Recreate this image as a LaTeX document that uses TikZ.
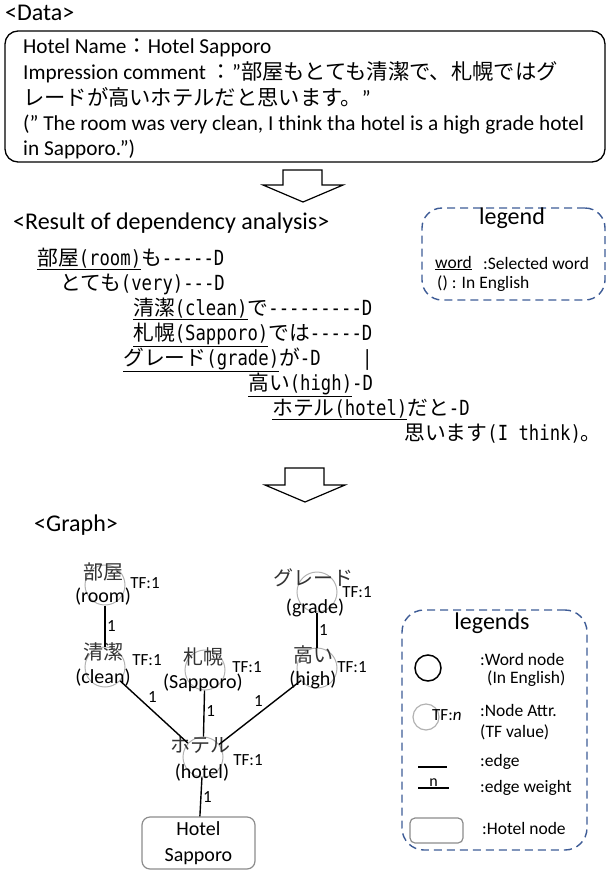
\documentclass[tikz,border=0pt]{standalone}
\usepackage{fontspec}
\setmainfont{Carlito}
\newfontfamily\jpfont{Noto Sans CJK JP}
\newfontfamily\depmono[FakeStretch=0.83]{DejaVu Sans Mono}
\newcommand\J[1]{{\jpfont #1}}
\newcommand\hy{-\kern0pt}
\definecolor{legblue}{RGB}{62,92,150}
\tikzset{
  heading/.style={font=\fontsize{24}{28}\selectfont, anchor=west, inner sep=0pt},
  datatext/.style={font=\fontsize{21.3}{25}\selectfont, anchor=base west, inner sep=0pt},
  dep/.style={font=\depmono\fontsize{20.8}{24}\selectfont, anchor=base west, inner sep=0pt},
  wordnode/.style={circle, draw=black!30, line width=1pt, minimum size=40pt, inner sep=0pt},
  jplabel/.style={font=\jpfont\fontsize{20}{24}\selectfont, text=black!80, inner sep=0pt},
  enlabel/.style={font=\fontsize{20}{24}\selectfont, inner sep=0pt},
  tflabel/.style={font=\fontsize{17}{19}\selectfont, inner sep=0pt},
  edge/.style={line width=1.4pt},
  wlabel/.style={font=\fontsize{17}{19}\selectfont, inner sep=1.5pt},
  legendbox/.style={draw=legblue, dash pattern=on 8pt off 5pt, line width=1.4pt, rounded corners=20pt},
  legtext/.style={font=\fontsize{17.5}{20}\selectfont, anchor=west, inner sep=0pt},
  hollowarrow/.style={draw, line width=1.2pt, fill=white, line join=miter},
}
\begin{document}
\begin{tikzpicture}[x=1pt,y=-1pt]
\useasboundingbox (0,0) rectangle (607,871);

% ---------- input data ----------
\node[heading] (hdata) at (5,13) {<Data>};
\node[draw, line width=1.3pt, rounded corners=13pt, minimum width=600pt, minimum height=131pt] (databox) at (305,96.5) {};
\node[datatext] (d1) at (23,53) {Hotel Name\J{：}Hotel Sapporo};
\node[datatext] (d2) at (23,79) {Impression comment \J{：}”\J{部屋もとても清潔で、札幌ではグ}};
\node[datatext] (d3) at (23,105) {\J{レードが高いホテルだと思います。}”};
\node[datatext] (d4) at (23,130) {(” The room was very clean, I think tha hotel is a high grade hotel};
\node[datatext] (d5) at (23,155) {in Sapporo.”)};

% arrow to the parse result
\draw[hollowarrow] (283,170) -- (322,170) -- (322,185) -- (343,185) -- (303,202) -- (263,185) -- (283,185) -- cycle;

% ---------- dependency analysis ----------
\node[heading] (hdep) at (13,223) {<Result of dependency analysis>};
\node[dep] (dep1) at (37,265) {\underline{\J{部屋}(room)}\J{も}\hy\hy\hy\hy\hy D};
\node[dep] (dep2) at (60,290) {\J{とても}(very)\hy\hy\hy D};
\node[dep] (dep3) at (133,315) {\underline{\J{清潔}(clean)}\J{で}\hy\hy\hy\hy\hy\hy\hy\hy\hy D};
\node[dep] (dep4) at (133,340) {\underline{\J{札幌}(Sapporo)}\J{では}\hy\hy\hy\hy\hy D};
\node[dep] (dep5) at (123,365) {\underline{\J{グレード}(grade)}\J{が}\hy D};
\node[dep] (dep5bar) at (362,365) {|};
\node[dep] (dep6) at (248,390) {\underline{\J{高い}(high)}\hy D};
\node[dep] (dep7) at (272,415) {\underline{\J{ホテル}(hotel)}\J{だと}\hy D};
\node[dep] (dep8) at (404,440) {\J{思います}(I think)\J{。}};

% legend of the parse result
\node[legendbox, minimum width=183pt, minimum height=92pt] (leg1) at (513.5,254) {};
\node[heading, anchor=center] (leg1t) at (512,218) {legend};
\node[legtext] (leg1a) at (435,263) {\underline{word}};
\node[legtext] (leg1b) at (483,263) {:Selected word};
\node[legtext] (leg1c) at (437,284) {() : In English};

% arrow to the graph
\draw[hollowarrow] (285,468) -- (324,468) -- (324,485) -- (345,485) -- (305,502) -- (265,485) -- (285,485) -- cycle;

% ---------- graph ----------
\node[heading] (hgraph) at (34,525) {<Graph>};

\node[wordnode] (room) at (105,585) {};
\node[jplabel] (roomjp) at (103,572) {部屋};
\node[enlabel] (roomen) at (103,597) {(room)};
\node[tflabel] (roomtf) at (145,583) {TF:1};

\node[wordnode] (grade) at (317,592) {};
\node[jplabel] (gradejp) at (313,578) {グレード};
\node[enlabel] (gradeen) at (315,608) {(grade)};
\node[tflabel] (gradetf) at (357,592) {TF:1};

\node[wordnode] (clean) at (105,667) {};
\node[jplabel] (cleanjp) at (103,652) {清潔};
\node[enlabel] (cleanen) at (103,678) {(clean)};
\node[tflabel] (cleantf) at (147,660) {TF:1};

\node[wordnode] (sap) at (205,670) {};
\node[jplabel] (sapjp) at (203,657) {札幌};
\node[enlabel] (sapen) at (203,683) {(Sapporo)};
\node[tflabel] (saptf) at (247,667) {TF:1};

\node[wordnode] (high) at (317,668) {};
\node[jplabel] (highjp) at (313,655) {高い};
\node[enlabel] (highen) at (313,680) {(high)};
\node[tflabel] (hightf) at (352,667) {TF:1};

\node[wordnode] (hotel) at (203,757) {};
\node[jplabel] (hoteljp) at (200,745) {ホテル};
\node[enlabel] (hotelen) at (202,773) {(hotel)};
\node[tflabel] (hoteltf) at (248,760) {TF:1};

\node[draw=black!45, line width=1.2pt, rounded corners=8pt, minimum width=113pt, minimum height=52pt,
      align=center, font=\fontsize{20}{26}\selectfont, inner sep=0pt] (hsap) at (198.5,843) {Hotel\\Sapporo};

\draw[edge] (room) -- (clean) node[wlabel, pos=0.5, right] {1};
\draw[edge] (grade) -- (high) node[wlabel, pos=0.5, right] {1};
\draw[edge] (clean) -- (hotel) node[wlabel, pos=0.38, anchor=south west] {1};
\draw[edge] (sap) -- (hotel) node[wlabel, pos=0.45, right] {1};
\draw[edge] (high) -- (hotel) node[wlabel, pos=0.44, anchor=south east] {1};
\draw[edge] (hotel) -- (hsap) node[wlabel, pos=0.5, right] {1};

% legend of the graph
\node[legendbox, rounded corners=22pt, minimum width=185pt, minimum height=240pt] (leg2) at (494.5,730) {};
\node[heading, anchor=center] (leg2t) at (492,623) {legends};
\node[circle, draw, line width=1.5pt, minimum size=26pt, inner sep=0pt] (legword) at (428,668) {};
\node[legtext] (legword1) at (480,659) {:Word node};
\node[legtext] (legword2) at (487,679) {(In English)};
\node[circle, draw=black!30, line width=1.2pt, minimum size=26pt, inner sep=0pt] (legattr) at (426,717) {};
\node[tflabel, anchor=west] (legtf) at (432,715) {TF:\textit{n}};
\node[legtext] (legattr1) at (480,710) {:Node Attr.};
\node[legtext] (legattr2) at (480,732) {(TF value)};
\coordinate (le1) at (418,767);
\coordinate (le2) at (447,767);
\draw[line width=1.3pt] (le1) -- (le2);
\node[legtext] (legedge) at (480,762) {:edge};
\coordinate (lw1) at (418,788);
\coordinate (lw2) at (449,788);
\draw[line width=1.3pt] (lw1) -- (lw2) node[midway, above, inner sep=1pt, font=\fontsize{16}{18}\selectfont] {n};
\node[legtext] (legweight) at (480,788) {:edge weight};
\node[draw=black!45, line width=1.2pt, rounded corners=5pt, minimum width=53pt, minimum height=25pt, inner sep=0pt] (leghotel) at (436.5,830.5) {};
\node[legtext] (leghoteltxt) at (482,828) {:Hotel node};
\end{tikzpicture}
\end{document}
